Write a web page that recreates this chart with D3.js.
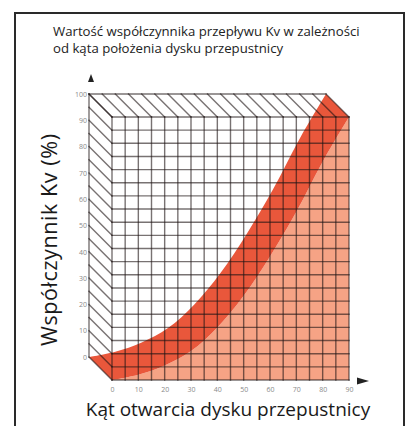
<!DOCTYPE html>
<html><head><meta charset="utf-8">
<script src="https://cdn.jsdelivr.net/npm/d3@7/dist/d3.min.js"></script>
<style>html,body{margin:0;padding:0;background:#fff;}svg{display:block;}</style>
</head><body>
<script>
// ---- data ----
const angles = [0, 10, 20, 30, 40, 50, 60, 70, 80, 90];
const kvValues = [0, 2, 5.5, 11, 20, 32, 47, 64, 83, 100];
const xTickLabels = [0, 10, 20, 30, 40, 50, 60, 70, 80, 90];
const yTickLabels = [0, 10, 20, 30, 40, 50, 60, 70, 80, 90, 100];
const titleLines = ["Wartość współczynnika przepływu Kv w zależności", "od kąta położenia dysku przepustnicy"];
const xTitle = "Kąt otwarcia dysku przepustnicy";
const yTitle = "Współczynnik Kv (%)";

const W = 416, H = 426;
const svg = d3.select("body").append("svg").attr("width", W).attr("height", H);
const font = "'Open Sans', 'Noto Sans', sans-serif";

// frame
svg.append("path").attr("d", "M15,427 V13 H404 V427").attr("fill", "none").attr("stroke", "#2a2a2a").attr("stroke-width", 2);

// title (one text, two lines)
svg.append("text").attr("font-family", font).attr("font-size", 13.2).attr("fill", "#222")
  .selectAll("tspan").data(titleLines).join("tspan")
  .attr("x", 53).attr("y", (d, i) => 36 + i * 17).text(d => d);

// scales (front plane) and depth offset
const x = d3.scaleLinear().domain([0, 90]).range([112, 349]);
const y = d3.scaleLinear().domain([0, 100]).range([380, 117]);
const dep = 23;
const xb = d3.scaleLinear().domain([0, 90]).range([112 - dep, 349 - dep]);
const yb = d3.scaleLinear().domain([0, 100]).range([380 - dep, 117 - dep]);

const data = angles.map((a, i) => ({ a, v: kvValues[i] }));
const smooth = d3.curveCatmullRom.alpha(0.5);

// light fill under the front curve
svg.append("path").datum(data)
  .attr("d", d3.area().x(d => x(d.a)).y0(y(0)).y1(d => y(d.v)).curve(smooth))
  .attr("fill", "#f6a385");

// extruded curve band (back curve -> front curve)
svg.append("path").datum(data)
  .attr("d", d3.area()
    .x0(d => xb(d.a)).y0(d => yb(d.v))
    .x1(d => x(d.a)).y1(d => y(d.v))
    .curve(smooth))
  .attr("fill", "#e9573b");

// grid lines
const gridA = d3.range(0, 90.1, 5);
const gridV = d3.range(0, 100.1, 5);
const segs = [];
gridA.forEach(a => segs.push([x(a), y(0), x(a), y(100)]));
gridV.forEach(v => segs.push([x(0), y(v), x(90), y(v)]));
gridA.forEach(a => segs.push([x(a), y(100), xb(a), yb(100)]));
gridV.forEach(v => segs.push([x(0), y(v), xb(0), yb(v)]));
segs.push([xb(0), yb(100), xb(90), yb(100)]);
segs.push([xb(0), yb(0), xb(0), yb(100)]);
svg.append("g").selectAll("line").data(segs).join("line")
  .attr("x1", d => d[0]).attr("y1", d => d[1]).attr("x2", d => d[2]).attr("y2", d => d[3])
  .attr("stroke", "rgba(30,20,20,0.6)").attr("stroke-width", 1.4).attr("stroke-linecap", "square");

// axes labels
const xAxis = svg.append("g").attr("transform", `translate(0,${y(0) + 7})`)
  .call(d3.axisBottom(x).tickValues(xTickLabels).tickSize(0).tickPadding(0));
xAxis.select(".domain").remove();
xAxis.selectAll("text").attr("font-family", font).attr("font-size", 7).attr("fill", "#8a8a8a").attr("dy", "0.71em");

const yAxis = svg.append("g").attr("transform", `translate(${xb(0) - 2},0)`)
  .call(d3.axisLeft(yb).tickValues(yTickLabels).tickSize(0).tickPadding(0));
yAxis.select(".domain").remove();
yAxis.selectAll("text").attr("font-family", font).attr("font-size", 7).attr("fill", "#8a8a8a");

// arrows
svg.append("path").attr("d", `M${xb(0) + 2},74 L${xb(0) - 1},82 L${xb(0) + 5},82 Z`).attr("fill", "#222");
svg.append("path").attr("d", `M369,381 L357,377.5 L357,384.5 Z`).attr("fill", "#222");

// axis titles
svg.append("text").attr("x", 228).attr("y", 416).attr("text-anchor", "middle")
  .attr("font-family", font).attr("font-size", 19).attr("fill", "#1a1a1a").text(xTitle);
svg.append("text").attr("transform", "translate(57,346) rotate(-90)").attr("text-anchor", "start")
  .attr("font-family", font).attr("font-size", 21.5).attr("textLength", 212).attr("lengthAdjust", "spacing")
  .attr("fill", "#1a1a1a").text(yTitle);
</script>
</body></html>
